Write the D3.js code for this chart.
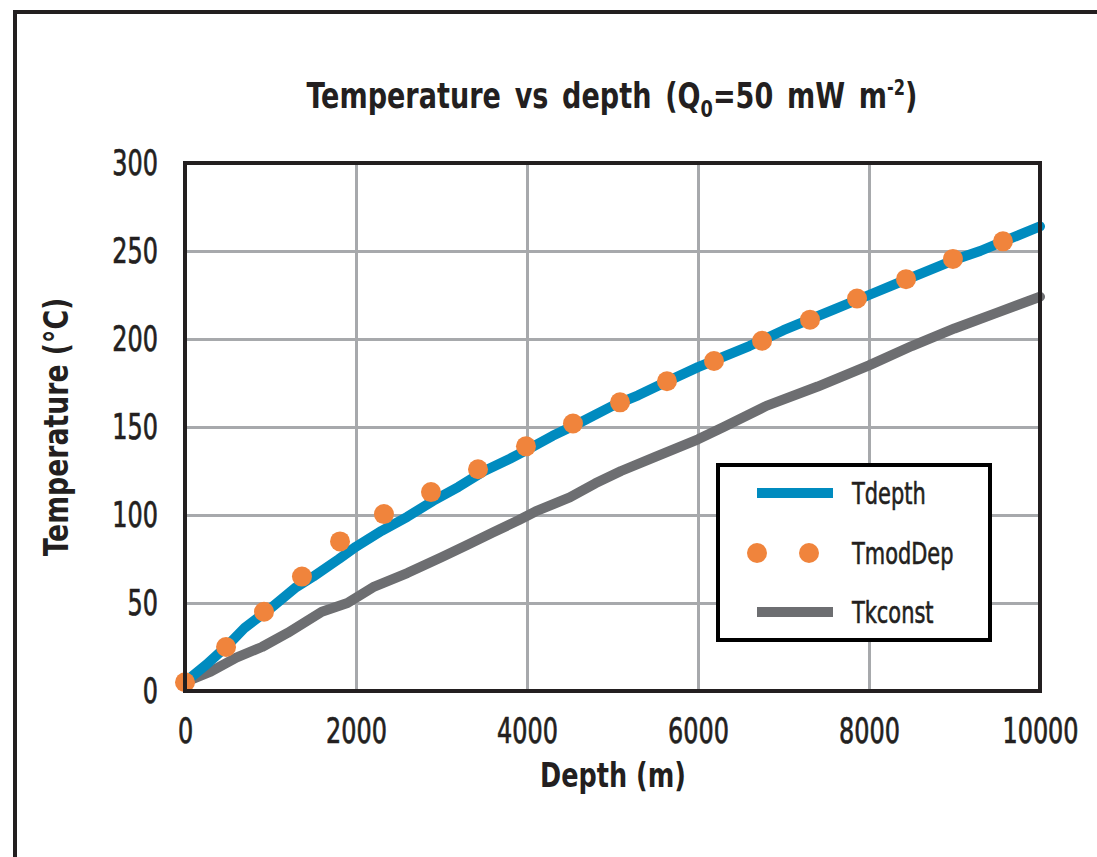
<!DOCTYPE html>
<html>
<head>
<meta charset="utf-8">
<script src="https://cdn.jsdelivr.net/npm/d3@7"></script>
<style>
  body { margin: 0; background: #fff; }
  svg { display: block; }
  text { font-family: "DejaVu Sans Condensed", "DejaVu Sans", sans-serif; fill: #231f20; }
  .tick text { font-size: 35px; stroke: #231f20; stroke-width: 0.7px; }
  .title, .axis-title { font-weight: bold; }
  .legend text { font-size: 31px; stroke: #231f20; stroke-width: 0.6px; }
</style>
</head>
<body>
<svg id="chart" width="1097" height="857"></svg>
<script>
// depth (m) / temperature (degC)
var tdepthX = [0, 250, 500, 700, 1000, 1300, 1500, 1800, 2000, 2300, 2600, 2900, 3200, 3500, 3800, 4000,
  4300, 4600, 5000, 5300, 5600, 6000, 6300, 6600, 7000, 7300, 7600, 8000, 8300, 8600, 9000, 9300, 9600, 10000];
var tdepthY = [5, 15, 26, 36, 47, 59, 65, 75, 82, 91, 99, 108, 116, 125, 132, 137,
  145, 152, 162, 168, 175, 184, 190, 196, 205, 211, 217, 225, 231, 237, 245, 250, 256, 264];

var tmodX = [0, 480, 924, 1368, 1813, 2327, 2877, 3427, 3988, 4538, 5088, 5637, 6187, 6749, 7310, 7860, 8433, 8982, 9567];
var tmodY = [5, 25, 45, 65, 85, 100.5, 113, 126, 139, 152, 164, 176, 187.5, 199, 211, 223, 234, 245.5, 255.5];

var tkX = [0, 300, 600, 900, 1200, 1600, 1900, 2200, 2600, 3000, 3300, 3600, 3900, 4100, 4500, 4800,
  5100, 5500, 6000, 6300, 6800, 7400, 8000, 8500, 9000, 9500, 10000];
var tkY = [5, 11, 19, 25, 33, 45, 50, 59, 67, 76, 83, 90, 97, 102, 110, 118,
  125, 133, 143, 150, 162, 173, 185, 196, 206, 215, 224];

var xTicks = [0, 2000, 4000, 6000, 8000, 10000];
var yTicks = [0, 50, 100, 150, 200, 250, 300];
var seriesNames = ["Tdepth", "TmodDep", "Tkconst"];

var BLUE = "#008bbf", ORANGE = "#f0843c", GREY = "#6d6e71", INK = "#231f20";

var svg = d3.select("#chart");
var plot = { left: 185, top: 163, right: 1040, bottom: 691 };

// narrow the glyphs sideways around each text's own anchor, the fonts here are too wide
function squeeze(sel, s) {
  sel.each(function () {
    var t = d3.select(this);
    var ax = +t.attr("x") || 0;
    var prev = t.attr("transform") || "";
    t.attr("transform", prev + " translate(" + ax + ",0) scale(" + s + ",1) translate(" + (-ax) + ",0)");
  });
}

// outer frame, runs off the right and bottom of the picture
svg.append("rect")
  .attr("x", 15).attr("y", 12).attr("width", 1120).attr("height", 880)
  .attr("fill", "none").attr("stroke", INK).attr("stroke-width", 4);

var x = d3.scaleLinear().domain([0, 10000]).range([plot.left, plot.right]);
var y = d3.scaleLinear().domain([0, 300]).range([plot.bottom, plot.top]);

// grid
svg.append("g")
  .attr("transform", "translate(0," + plot.bottom + ")")
  .call(d3.axisBottom(x).tickValues(xTicks).tickSize(-(plot.bottom - plot.top)).tickFormat(""))
  .call(function (g) { g.select(".domain").remove(); })
  .selectAll("line").attr("stroke", "#a7a9ac").attr("stroke-width", 3);
svg.append("g")
  .attr("transform", "translate(" + plot.left + ",0)")
  .call(d3.axisLeft(y).tickValues(yTicks).tickSize(-(plot.right - plot.left)).tickFormat(""))
  .call(function (g) { g.select(".domain").remove(); })
  .selectAll("line").attr("stroke", "#a7a9ac").attr("stroke-width", 3);

// tick labels
var xLab = svg.append("g")
  .attr("transform", "translate(0," + plot.bottom + ")")
  .call(d3.axisBottom(x).tickValues(xTicks).tickSize(0).tickPadding(27).tickFormat(d3.format("d")));
var yLab = svg.append("g")
  .attr("transform", "translate(" + plot.left + ",0)")
  .call(d3.axisLeft(y).tickValues(yTicks).tickSize(0).tickPadding(27).tickFormat(d3.format("d")));
[xLab, yLab].forEach(function (g) {
  g.select(".domain").remove();
  g.attr("font-family", null).attr("font-size", null);
  squeeze(g.selectAll("text"), 0.76);
});

// series
var line = d3.line().x(function (d) { return x(d[0]); }).y(function (d) { return y(d[1]); });
svg.append("path")
  .datum(d3.zip(tkX, tkY))
  .attr("d", line).attr("fill", "none").attr("stroke", GREY)
  .attr("stroke-width", 10).attr("stroke-linejoin", "round").attr("stroke-linecap", "round");
svg.append("path")
  .datum(d3.zip(tdepthX, tdepthY))
  .attr("d", line).attr("fill", "none").attr("stroke", BLUE)
  .attr("stroke-width", 10).attr("stroke-linejoin", "round").attr("stroke-linecap", "round");
svg.append("g").selectAll("circle")
  .data(d3.zip(tmodX, tmodY))
  .enter().append("circle")
  .attr("cx", function (d) { return x(d[0]); })
  .attr("cy", function (d) { return y(d[1]); })
  .attr("r", 10).attr("fill", ORANGE);

// plot frame
svg.append("rect")
  .attr("x", plot.left).attr("y", plot.top)
  .attr("width", plot.right - plot.left).attr("height", plot.bottom - plot.top)
  .attr("fill", "none").attr("stroke", INK).attr("stroke-width", 4);

// legend
var lg = svg.append("g").attr("class", "legend");
lg.append("rect")
  .attr("x", 718).attr("y", 465).attr("width", 272).attr("height", 175)
  .attr("fill", "#fff").attr("stroke", "#000").attr("stroke-width", 4);
var rows = [493, 553, 612];
lg.append("line").attr("x1", 757).attr("x2", 833).attr("y1", rows[0]).attr("y2", rows[0])
  .attr("stroke", BLUE).attr("stroke-width", 10);
lg.selectAll("circle.key").data([757, 809]).enter().append("circle")
  .attr("class", "key").attr("cx", function (d) { return d; }).attr("cy", rows[1])
  .attr("r", 10).attr("fill", ORANGE);
lg.append("line").attr("x1", 757).attr("x2", 833).attr("y1", rows[2]).attr("y2", rows[2])
  .attr("stroke", GREY).attr("stroke-width", 10);
squeeze(lg.selectAll("text.key").data(seriesNames).enter().append("text")
  .attr("class", "key")
  .attr("x", 852).attr("y", function (d, i) { return rows[i] + 11; })
  .text(function (d) { return d; }), 0.75);

// titles
var title = svg.append("text").attr("class", "title")
  .attr("x", 612).attr("y", 108).attr("text-anchor", "middle").attr("font-size", 35)
  .attr("word-spacing", 5);
title.append("tspan").text("Temperature vs depth (Q");
title.append("tspan").attr("font-size", 23).attr("dy", 9).text("0");
title.append("tspan").attr("dy", -9).text("=50 mW m");
title.append("tspan").attr("font-size", 21).attr("dy", -13).text("-2");
title.append("tspan").attr("dy", 13).text(")");
squeeze(title, 0.86);

squeeze(svg.append("text").attr("class", "axis-title")
  .attr("x", 613).attr("y", 787).attr("text-anchor", "middle").attr("font-size", 33)
  .text("Depth (m)"), 0.86);
svg.append("text").attr("class", "axis-title")
  .attr("transform", "translate(68,427) rotate(-90) scale(0.9,1)")
  .attr("text-anchor", "middle").attr("font-size", 33)
  .text("Temperature (°C)");
</script>
</body>
</html>
